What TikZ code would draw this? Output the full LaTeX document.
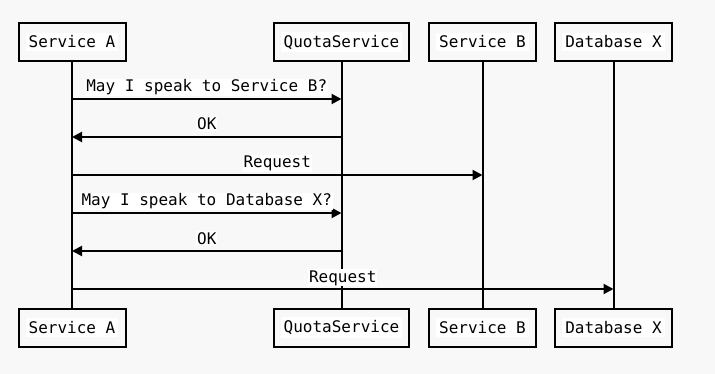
\documentclass[tikz,border=0pt]{standalone}
\usepackage{fontspec}
\newfontfamily\seqfont{DejaVu Sans Mono}
\usetikzlibrary{arrows.meta,calc}
\definecolor{pagebg}{HTML}{F8F8F8}
\tikzset{
  x=1pt, y=1pt,
  actor/.style={draw=black, line width=2pt, fill=pagebg, minimum height=38pt,
                inner sep=0pt, font=\seqfont\fontsize{16}{19}\selectfont},
  lifeline/.style={draw=black, line width=2pt},
  msg/.style={draw=black, line width=2pt, -{Triangle[length=10pt,width=10pt]}},
  msglabel/.style={font=\seqfont\fontsize{16}{19}\selectfont, anchor=base,
                   fill=white, inner sep=1pt},
}
\begin{document}
\begin{tikzpicture}
  \useasboundingbox (0,0) rectangle (715,-374);
  \fill[pagebg] (0,0) rectangle (715,-374);

  % participants, top row
  \node[actor, minimum width=107pt] (aT) at (72,-42) {\colorbox{white}{Service A}};
  \node[actor, minimum width=135pt] (qT) at (341.5,-42) {\colorbox{white}{QuotaService}};
  \node[actor, minimum width=107pt] (bT) at (482.5,-42) {\colorbox{white}{Service B}};
  \node[actor, minimum width=117pt] (dT) at (613.5,-42) {\colorbox{white}{Database X}};

  % participants, bottom row
  \node[actor, minimum width=107pt] (aB) at (72,-327.5) {\colorbox{white}{Service A}};
  \node[actor, minimum width=135pt] (qB) at (341.5,-327.5) {\colorbox{white}{QuotaService}};
  \node[actor, minimum width=107pt] (bB) at (482.5,-327.5) {\colorbox{white}{Service B}};
  \node[actor, minimum width=117pt] (dB) at (613.5,-327.5) {\colorbox{white}{Database X}};

  % lifelines
  \draw[lifeline] (aT) -- (aB);
  \draw[lifeline] (qT) -- (qB);
  \draw[lifeline] (bT) -- (bB);
  \draw[lifeline] (dT) -- (dB);

  % message end points on the lifelines
  \coordinate (a1) at (aT |- 0,-99);   \coordinate (q1) at (qT |- 0,-99);
  \coordinate (a2) at (aT |- 0,-137);  \coordinate (q2) at (qT |- 0,-137);
  \coordinate (a3) at (aT |- 0,-175);  \coordinate (b3) at (bT |- 0,-175);
  \coordinate (a4) at (aT |- 0,-213);  \coordinate (q4) at (qT |- 0,-213);
  \coordinate (a5) at (aT |- 0,-251);  \coordinate (q5) at (qT |- 0,-251);
  \coordinate (a6) at (aT |- 0,-289);  \coordinate (d6) at (dT |- 0,-289);

  % messages
  \draw[msg] (a1) -- (q1);
  \node[msglabel] (l1) at ([yshift=7pt]$(a1)!0.5!(q1)$) {May I speak to Service B?};
  \draw[msg] (q2) -- (a2);
  \node[msglabel] (l2) at ([yshift=7pt]$(a2)!0.5!(q2)$) {OK};
  \draw[msg] (a3) -- (b3);
  \node[msglabel] (l3) at ([yshift=7pt]$(a3)!0.5!(b3)$) {Request};
  \draw[msg] (a4) -- (q4);
  \node[msglabel] (l4) at ([yshift=7pt]$(a4)!0.5!(q4)$) {May I speak to Database X?};
  \draw[msg] (q5) -- (a5);
  \node[msglabel] (l5) at ([yshift=7pt]$(a5)!0.5!(q5)$) {OK};
  \draw[msg] (a6) -- (d6);
  \node[msglabel] (l6) at ([yshift=7pt]$(a6)!0.5!(d6)$) {Request};
\end{tikzpicture}
\end{document}
